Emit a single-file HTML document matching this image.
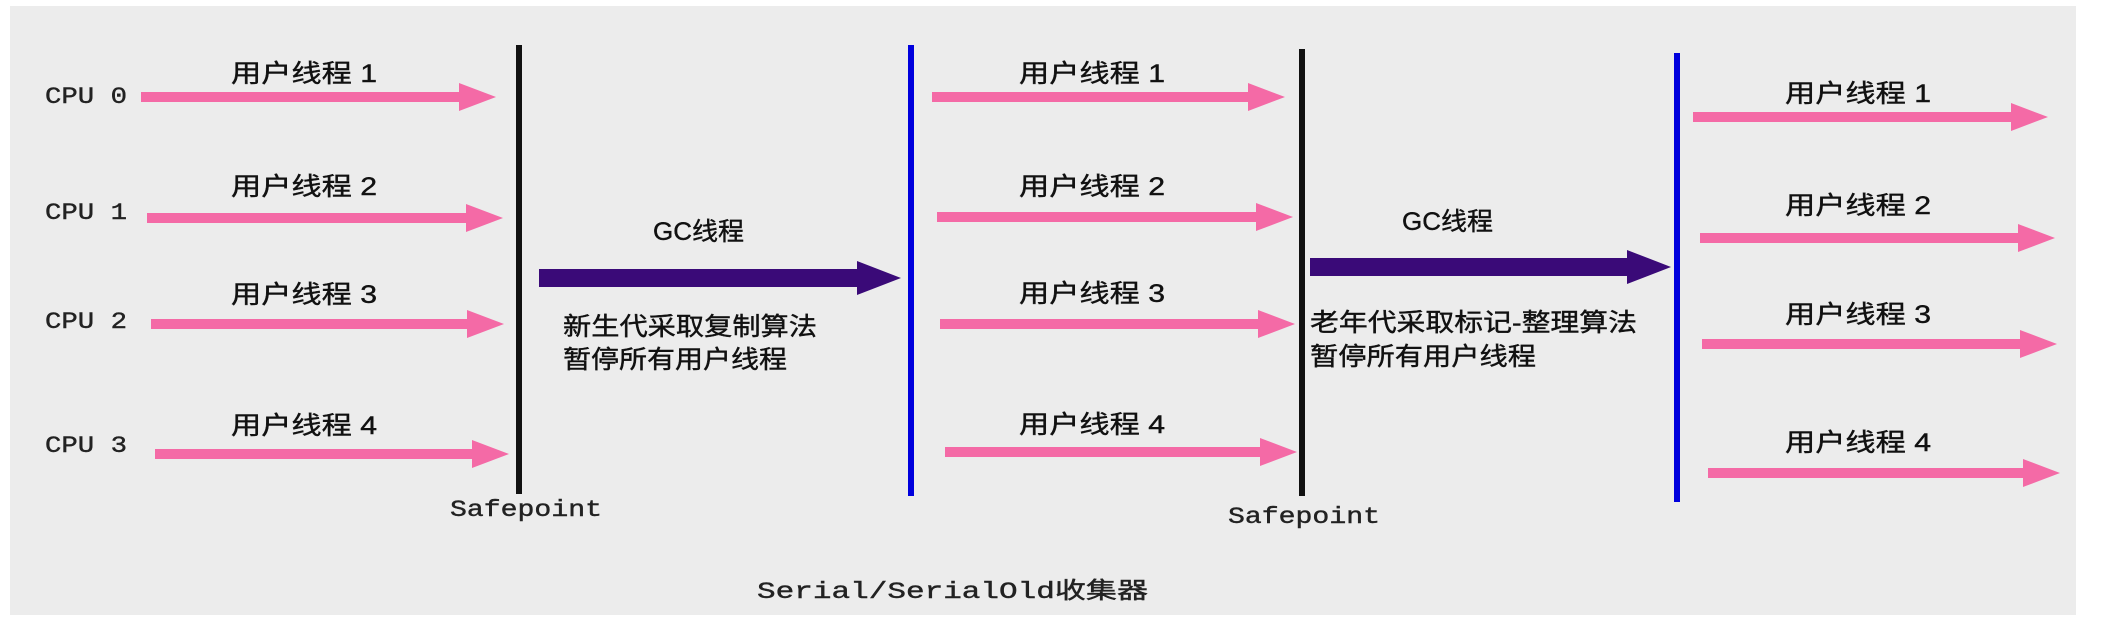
<!DOCTYPE html>
<html><head><meta charset="utf-8"><style>
html,body{margin:0;padding:0;background:#fff;}
svg{display:block;}
.c{font-family:"Liberation Sans","Noto Sans CJK SC",sans-serif;font-size:25px;fill:#111;stroke:#111;stroke-width:0.4;}
.m{font-family:"Liberation Mono","Noto Sans CJK SC",monospace;font-size:23px;fill:#222;stroke:#222;stroke-width:0.4;}
</style></head><body>
<svg width="2102" height="620" viewBox="0 0 2102 620" xmlns="http://www.w3.org/2000/svg">
<rect x="10" y="6" width="2066" height="609" fill="#ececec"/>
<g fill="#f46aa6">
<rect x="141" y="92" width="320" height="10"/><polygon points="459,83 496,97 459,111"/>
<rect x="147" y="213" width="320" height="10"/><polygon points="466,204 503,218 466,232"/>
<rect x="151" y="319" width="317" height="10"/><polygon points="467,310 504,324 467,338"/>
<rect x="155" y="449" width="318" height="10"/><polygon points="472,440 509,454 472,468"/>
<rect x="932" y="92" width="317" height="10"/><polygon points="1248,83 1285,97 1248,111"/>
<rect x="937" y="212" width="320" height="10"/><polygon points="1256,203 1293,217 1256,231"/>
<rect x="940" y="319" width="319" height="10"/><polygon points="1258,310 1295,324 1258,338"/>
<rect x="945" y="447" width="316" height="10"/><polygon points="1260,438 1297,452 1260,466"/>
<rect x="1693" y="112" width="319" height="10"/><polygon points="2011,103 2048,117 2011,131"/>
<rect x="1700" y="233" width="319" height="10"/><polygon points="2018,224 2055,238 2018,252"/>
<rect x="1702" y="339" width="319" height="10"/><polygon points="2020,330 2057,344 2020,358"/>
<rect x="1708" y="468" width="316" height="10"/><polygon points="2023,459 2060,473 2023,487"/>
</g>
<rect x="516" y="45" width="6" height="449" fill="#111"/>
<rect x="908" y="45" width="6" height="451" fill="#0000dd"/>
<rect x="1299" y="49" width="6" height="447" fill="#111"/>
<rect x="1674" y="53" width="6" height="449" fill="#0000dd"/>
<g fill="#3a0a78">
<rect x="539" y="269" width="320" height="18"/><polygon points="857,261 901,278 857,295"/>
<rect x="1310" y="258" width="318" height="18"/><polygon points="1627,250 1671,267 1627,284"/>
</g>
<text class="m" x="45" y="103" textLength="82" lengthAdjust="spacingAndGlyphs">CPU 0</text>
<text class="m" x="45" y="219" textLength="82" lengthAdjust="spacingAndGlyphs">CPU 1</text>
<text class="m" x="45" y="328" textLength="82" lengthAdjust="spacingAndGlyphs">CPU 2</text>
<text class="m" x="45" y="452" textLength="82" lengthAdjust="spacingAndGlyphs">CPU 3</text>
<g class="c">
<text x="231" y="82" textLength="146" lengthAdjust="spacingAndGlyphs">用户线程 1</text>
<text x="231" y="195" textLength="146" lengthAdjust="spacingAndGlyphs">用户线程 2</text>
<text x="231" y="303" textLength="146" lengthAdjust="spacingAndGlyphs">用户线程 3</text>
<text x="231" y="434" textLength="146" lengthAdjust="spacingAndGlyphs">用户线程 4</text>
<text x="1019" y="82" textLength="146" lengthAdjust="spacingAndGlyphs">用户线程 1</text>
<text x="1019" y="195" textLength="146" lengthAdjust="spacingAndGlyphs">用户线程 2</text>
<text x="1019" y="302" textLength="146" lengthAdjust="spacingAndGlyphs">用户线程 3</text>
<text x="1019" y="433" textLength="146" lengthAdjust="spacingAndGlyphs">用户线程 4</text>
<text x="1785" y="102" textLength="146" lengthAdjust="spacingAndGlyphs">用户线程 1</text>
<text x="1785" y="214" textLength="146" lengthAdjust="spacingAndGlyphs">用户线程 2</text>
<text x="1785" y="323" textLength="146" lengthAdjust="spacingAndGlyphs">用户线程 3</text>
<text x="1785" y="451" textLength="146" lengthAdjust="spacingAndGlyphs">用户线程 4</text>
<text x="653" y="240" textLength="91" lengthAdjust="spacingAndGlyphs">GC线程</text>
<text x="1402" y="230" textLength="91" lengthAdjust="spacingAndGlyphs">GC线程</text>
<text x="563" y="335" textLength="254" lengthAdjust="spacingAndGlyphs">新生代采取复制算法</text>
<text x="563" y="368" textLength="224" lengthAdjust="spacingAndGlyphs">暂停所有用户线程</text>
<text x="1310" y="331" textLength="327" lengthAdjust="spacingAndGlyphs">老年代采取标记-整理算法</text>
<text x="1310" y="365" textLength="226" lengthAdjust="spacingAndGlyphs">暂停所有用户线程</text>
</g>
<text class="m" x="450" y="516" textLength="152" lengthAdjust="spacingAndGlyphs">Safepoint</text>
<text class="m" x="1228" y="523" textLength="152" lengthAdjust="spacingAndGlyphs">Safepoint</text>
<text class="m" x="757" y="598" textLength="391" lengthAdjust="spacingAndGlyphs">Serial/SerialOld收集器</text>
</svg>
</body></html>
